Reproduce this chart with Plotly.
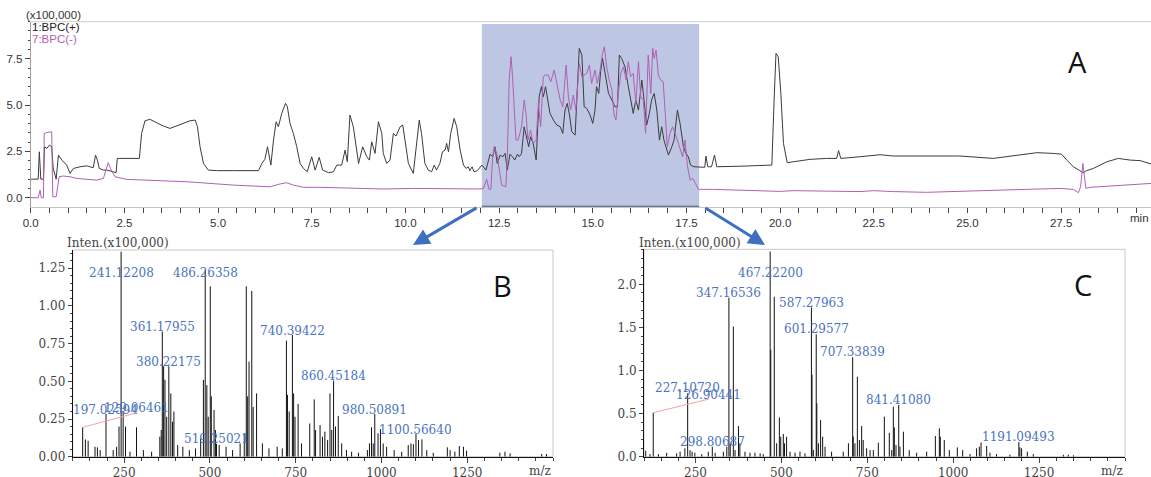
import plotly.graph_objects as go

# ---------------- Chromatogram (A) ----------------
t_pos = [0, 0.2, 0.23, 0.27, 0.34, 0.37, 0.43, 0.5, 0.56, 0.6, 0.68, 0.74, 0.83, 0.96, 1.05, 1.14, 1.32, 1.5, 1.58, 1.67,
         1.73, 1.78, 1.83, 1.94, 2.03, 2.12, 2.2, 2.28, 2.31, 2.38, 2.56, 2.74, 2.9, 2.96, 3.05, 3.18, 3.36, 3.54, 3.72, 3.9,
         4.07, 4.25, 4.39, 4.45, 4.52, 4.61, 4.74, 4.96, 5.41, 5.77, 6.08, 6.17, 6.25, 6.32, 6.37, 6.41, 6.48, 6.55, 6.61, 6.7,
         6.8, 6.85, 6.92, 7.01, 7.1, 7.19, 7.28, 7.38, 7.5, 7.59, 7.7, 7.79, 7.95, 8.08, 8.17, 8.3, 8.39, 8.45, 8.52, 8.61,
         8.75, 8.86, 8.97, 9.04, 9.1, 9.19, 9.28, 9.37, 9.41, 9.5, 9.59, 9.68, 9.75, 9.86, 9.93, 9.99, 10.08, 10.21, 10.3, 10.37,
         10.43, 10.52, 10.61, 10.7, 10.77, 10.83, 10.92, 10.99, 11.06, 11.1, 11.15, 11.21, 11.3, 11.37, 11.46, 11.55, 11.62, 11.68, 11.72, 11.78,
         11.83, 11.92, 12.04, 12.15, 12.26, 12.33, 12.39, 12.45, 12.53, 12.6, 12.66, 12.72, 12.79, 12.86, 12.92, 12.99, 13.04, 13.1, 13.17, 13.24,
         13.29, 13.34, 13.41, 13.49, 13.52, 13.57, 13.63, 13.68, 13.74, 13.79, 13.86, 13.95, 14.04, 14.13, 14.2, 14.26, 14.32, 14.38, 14.44, 14.53,
         14.59, 14.64, 14.71, 14.77, 14.84, 14.93, 15.0, 15.06, 15.1, 15.16, 15.21, 15.26, 15.33, 15.42, 15.51, 15.59, 15.66, 15.71, 15.77, 15.86,
         15.95, 16.01, 16.08, 16.15, 16.22, 16.31, 16.37, 16.44, 16.51, 16.57, 16.64, 16.71, 16.78, 16.84, 16.9, 16.96, 17.02, 17.11, 17.17, 17.26,
         17.33, 17.42, 17.49, 17.55, 17.61, 17.7, 17.86, 17.99, 18.02, 18.07, 18.17, 18.25, 18.31, 18.4, 18.66, 19.11, 19.46, 19.78, 19.84, 19.89,
         19.95, 20.02, 20.09, 20.19, 20.35, 20.8, 21.24, 21.51, 21.56, 21.62, 22.13, 22.67, 23.02, 23.91, 24.8, 25.69, 26.23, 26.58, 26.85, 27.29,
         27.51, 27.65, 27.83, 28.0, 28.09, 28.18, 28.36, 28.72, 29.03, 29.34, 29.61, 29.9]
i_pos = [1.0, 1.0, 2.48, 1.0, 1.0, 2.75, 2.66, 2.84, 2.75, 1.6, 1.0, 2.3, 2.03, 1.76, 1.31, 1.58, 1.67, 1.72, 1.67, 1.62,
         2.3, 2.03, 1.58, 1.49, 1.49, 1.46, 1.4, 1.35, 2.12, 2.12, 2.12, 2.12, 2.12, 3.47, 4.15, 4.23, 4.05, 3.87, 3.74, 3.87,
         4.01, 4.15, 4.19, 3.83, 2.75, 1.85, 1.49, 1.46, 1.46, 1.46, 1.46, 1.85, 2.07, 2.75, 2.21, 1.76, 3.11, 4.1, 3.83, 4.55,
         5.09, 4.91, 4.01, 3.47, 2.75, 1.85, 1.58, 1.4, 2.21, 1.49, 2.18, 1.49, 1.35, 1.4, 1.76, 1.76, 2.57, 1.94, 4.46, 3.83,
         1.85, 2.75, 2.21, 2.03, 3.02, 2.39, 4.1, 3.47, 2.39, 1.85, 2.03, 3.47, 3.33, 3.83, 3.92, 3.11, 1.85, 1.31, 3.11, 4.19,
         3.47, 1.85, 1.49, 1.4, 1.76, 1.49, 1.85, 2.48, 2.57, 2.93, 2.48, 3.47, 4.28, 3.83, 2.57, 1.76, 1.58, 1.67, 1.46, 1.67,
         1.4, 1.46, 1.76, 1.49, 2.35, 2.21, 2.75, 1.85, 2.3, 2.21, 2.39, 1.49, 2.35, 2.21, 2.03, 2.35, 2.21, 2.39, 3.83, 3.11,
         2.75, 3.29, 2.93, 2.03, 3.47, 5.45, 5.99, 5.45, 5.99, 5.27, 4.55, 4.19, 3.92, 3.83, 3.47, 4.73, 5.09, 4.46, 3.56, 3.38,
         6.17, 8.06, 7.7, 4.91, 4.82, 4.46, 4.01, 4.73, 5.99, 5.63, 6.8, 7.52, 6.71, 5.63, 5.27, 4.91, 4.91, 7.7, 7.52, 7.07,
         5.99, 5.27, 4.55, 5.27, 4.73, 6.35, 5.27, 3.92, 4.55, 5.27, 5.63, 4.73, 3.11, 3.83, 3.11, 2.75, 2.3, 2.75, 3.11, 4.73,
         4.01, 2.75, 2.39, 2.21, 1.76, 1.67, 1.64, 1.64, 2.25, 1.67, 1.67, 2.3, 1.67, 1.67, 1.71, 1.71, 1.74, 1.76, 5.27, 7.79,
         7.61, 5.63, 2.93, 1.89, 1.94, 2.07, 2.12, 2.12, 2.54, 2.12, 2.21, 2.32, 2.25, 2.25, 2.25, 2.12, 2.25, 2.35, 2.43, 2.39,
         2.35, 2.03, 1.67, 1.46, 1.35, 1.46, 1.58, 1.94, 2.12, 2.03, 2.0, 1.82]

t_neg = [0, 0.2, 0.25, 0.28, 0.34, 0.36, 0.43, 0.52, 0.56, 0.59, 0.68, 0.72, 0.76, 0.87, 1.05, 1.23, 1.5, 1.76, 1.94, 2.01,
         2.07, 2.13, 2.25, 2.56, 3.18, 3.81, 4.16, 4.52, 4.96, 5.41, 5.94, 6.39, 6.65, 6.83, 7.01, 7.28, 7.72, 8.52, 9.41, 10.21,
         11.1, 11.99, 12.08, 12.17, 12.23, 12.28, 12.33, 12.37, 12.44, 12.51, 12.57, 12.68, 12.72, 12.77, 12.82, 12.86, 12.91, 12.95, 13.01, 13.1,
         13.17, 13.22, 13.27, 13.34, 13.41, 13.49, 13.55, 13.61, 13.68, 13.74, 13.81, 13.88, 13.97, 14.04, 14.13, 14.2, 14.29, 14.35, 14.41, 14.48,
         14.55, 14.64, 14.71, 14.78, 14.84, 14.91, 14.97, 15.06, 15.12, 15.19, 15.26, 15.31, 15.37, 15.44, 15.51, 15.57, 15.62, 15.68, 15.75, 15.82,
         15.89, 15.95, 16.01, 16.08, 16.15, 16.22, 16.28, 16.35, 16.41, 16.48, 16.55, 16.6, 16.64, 16.69, 16.75, 16.81, 16.88, 16.94, 16.99, 17.06,
         17.13, 17.2, 17.26, 17.33, 17.4, 17.46, 17.53, 17.6, 17.67, 17.74, 17.82, 18.22, 19.11, 19.99, 20.35, 21.24, 22.13, 22.49, 23.02, 23.91,
         24.8, 25.69, 26.58, 27.47, 27.83, 27.96, 28.02, 28.08, 28.12, 28.16, 28.27, 28.81, 29.25, 29.9]
i_neg = [0.0, 0.0, 0.41, 0.0, 0.0, 3.47, 3.51, 3.56, 3.56, 0.05, 0.05, 0.59, 1.13, 1.17, 1.13, 1.04, 0.99, 0.95, 1.04, 1.58,
         1.89, 1.58, 1.13, 0.99, 0.95, 0.92, 0.86, 0.81, 0.74, 0.68, 0.63, 0.59, 0.74, 0.81, 0.68, 0.56, 0.56, 0.5, 0.47, 0.5,
         0.47, 0.47, 0.5, 0.99, 0.45, 0.45, 2.21, 2.75, 2.39, 1.49, 0.68, 0.59, 2.21, 6.35, 7.61, 6.53, 4.19, 3.11, 3.11, 3.83,
         5.27, 4.55, 3.11, 3.65, 2.93, 3.11, 5.09, 3.83, 6.53, 6.62, 6.62, 6.26, 6.89, 6.17, 5.27, 4.91, 7.16, 5.45, 4.73, 5.54,
         4.73, 7.25, 6.53, 6.62, 6.71, 7.16, 6.17, 6.89, 6.17, 6.8, 7.79, 8.15, 7.07, 6.35, 5.81, 4.46, 4.19, 5.63, 6.71, 7.07,
         6.35, 7.34, 6.53, 6.71, 5.09, 7.34, 5.45, 5.27, 3.47, 7.7, 5.63, 8.06, 7.52, 7.97, 6.62, 6.35, 6.26, 4.37, 2.75, 3.47,
         3.83, 3.47, 3.11, 2.75, 2.21, 3.11, 1.67, 0.95, 1.04, 0.77, 0.45, 0.45, 0.38, 0.34, 0.38, 0.34, 0.33, 0.38, 0.33, 0.29,
         0.33, 0.38, 0.45, 0.5, 0.45, 0.27, 0.59, 1.85, 1.13, 0.5, 0.56, 0.63, 0.68, 0.77]

sel_start, sel_end = 12.04, 17.84  # highlighted retention-time window (min)

# ---------------- Mass spectrum (B) ----------------
b_mz = [129.06, 137, 145, 165, 172, 180, 197.03, 218, 228, 235, 241.12, 247, 254, 267, 286, 306, 330, 354, 358, 361.18,
        365, 369, 374, 380.22, 386, 391, 395, 406, 421, 440, 458, 473, 481, 486.26, 491, 495, 501, 504, 512, 516,
        519.25, 527, 547, 566, 588, 600, 606, 610, 614, 622, 626, 636, 653, 672, 696, 711, 723, 726, 731, 740.39,
        744, 748, 757, 767, 791, 804, 808, 821, 828, 835, 843, 850, 855, 860.45, 866, 874, 884, 898, 913, 933,
        959, 965, 971, 976, 980.51, 990, 997, 1005, 1015, 1037, 1059, 1078, 1086, 1093, 1100.57, 1108, 1118, 1132, 1151, 1192,
        1200, 1214, 1227, 1239, 1248, 1345, 1360, 1375, 1467, 1481]
b_int = [0.195, 0.115, 0.106, 0.066, 0.062, 0.044, 0.283, 0.044, 0.066, 0.20, 1.36, 0.30, 0.20, 0.033, 0.195, 0.044, 0.033, 0.133, 0.177, 0.83,
         0.60, 0.51, 0.265, 0.60, 0.42, 0.232, 0.30, 0.077, 0.066, 0.044, 0.055, 0.121, 0.51, 1.24, 0.475, 0.265, 1.13, 0.40, 0.31, 0.177,
         0.085, 0.077, 0.066, 0.044, 0.088, 0.155, 1.13, 0.40, 0.63, 1.10, 0.33, 0.42, 0.088, 0.055, 0.066, 0.055, 0.77, 0.41, 0.30, 0.807,
         0.42, 0.265, 0.35, 0.088, 0.22, 0.38, 0.177, 0.21, 0.133, 0.166, 0.11, 0.42, 0.177, 0.504, 0.20, 0.27, 0.088, 0.044, 0.033, 0.026,
         0.044, 0.088, 0.195, 0.088, 0.283, 0.155, 0.183, 0.088, 0.066, 0.044, 0.033, 0.077, 0.088, 0.082, 0.15, 0.11, 0.115, 0.044, 0.026, 0.062,
         0.044, 0.033, 0.07, 0.066, 0.04, 0.026, 0.033, 0.022, 0.018, 0.018]
b_labels = ["241.12208", "486.26358", "361.17955", "380.22175", "197.02594", "519.25021",
            "740.39422", "860.45184", "980.50891", "1100.56640"]
b_leader_label = "129.06461"

# ---------------- Mass spectrum (C) ----------------
c_mz = [105, 117.5, 126.90, 142, 166, 195, 205, 219, 227.11, 234, 240, 248, 268, 287, 298.81, 307, 331, 341, 347.17, 351,
        360, 365, 375, 379, 394, 408.5, 423, 438, 447, 467.22, 469, 479.2, 486, 494, 498, 505.5, 509, 515, 525, 539.5,
        554, 568.6, 587.28, 589, 593, 601.30, 603, 607.6, 614, 620, 627, 646, 680, 695, 707.34, 709, 714, 721, 727, 733.5,
        738, 748, 758, 767.5, 782, 799.5, 814, 821, 825.7, 828.6, 833.5, 841.41, 845, 855, 872, 893.6, 922.7, 948, 959.6, 962.5,
        974, 988.7, 1012, 1027.5, 1049, 1068, 1076, 1081, 1097.4, 1107, 1126, 1165, 1191.09, 1194, 1199, 1215.7, 1233, 1320.5, 1335, 1350]
c_int = [0.07, 0.03, 0.51, 0.03, 0.046, 0.039, 0.058, 0.097, 0.735, 0.077, 0.058, 0.046, 0.03, 0.058, 0.116, 0.046, 0.058, 0.116, 1.845, 0.155,
         1.51, 0.077, 0.355, 0.155, 0.058, 0.046, 0.046, 0.039, 0.03, 2.38, 1.24, 1.856, 0.155, 0.456, 0.232, 0.263, 0.155, 0.232, 0.058, 0.046,
         0.058, 0.039, 1.73, 0.95, 0.077, 1.42, 0.62, 0.155, 0.425, 0.232, 0.116, 0.058, 0.058, 0.155, 1.153, 0.232, 0.155, 0.928, 0.193, 0.355,
         0.193, 0.097, 0.077, 0.077, 0.162, 0.464, 0.278, 0.077, 0.58, 0.34, 0.135, 0.6, 0.116, 0.29, 0.077, 0.046, 0.058, 0.24, 0.33, 0.232,
         0.193, 0.077, 0.108, 0.077, 0.03, 0.097, 0.116, 0.166, 0.124, 0.046, 0.03, 0.023, 0.17, 0.108, 0.097, 0.058, 0.03, 0.023, 0.023, 0.016]
c_labels = ["467.22200", "347.16536", "587.27963", "601.29577", "707.33839", "841.41080",
            "1191.09493", "227.10720", "298.80687"]
c_leader_label = "126.90441"

mz_ticks = [250, 500, 750, 1000, 1250]

# ---------------- geometry / styles ----------------
W, H = 1151, 477
def px(x):
    return x / W
def py(y):
    return 1 - y / H

BLUE = "#4a72c0"
PINK = "#f2a5a5"
SERIF = "DejaVu Serif"
SANS = "Liberation Sans"

def sticks(mz, inten):
    xs, ys = [], []
    for m, v in zip(mz, inten):
        xs += [m, m, None]
        ys += [0, v, None]
    return xs, ys

fig = go.Figure()
fig.add_trace(go.Scatter(x=t_pos, y=i_pos, mode="lines", line=dict(color="#3c3c3c", width=1),
                         xaxis="x", yaxis="y", hoverinfo="skip"))
fig.add_trace(go.Scatter(x=t_neg, y=i_neg, mode="lines", line=dict(color="#b060b2", width=1),
                         xaxis="x", yaxis="y", hoverinfo="skip"))
bx, by = sticks(b_mz, b_int)
fig.add_trace(go.Scatter(x=bx, y=by, mode="lines", line=dict(color="#111", width=1),
                         xaxis="x2", yaxis="y2", hoverinfo="skip"))
cx, cy = sticks(c_mz, c_int)
fig.add_trace(go.Scatter(x=cx, y=cy, mode="lines", line=dict(color="#111", width=1),
                         xaxis="x3", yaxis="y3", hoverinfo="skip"))

top_font = dict(family=SANS, size=11.5, color="#333")
spec_font = dict(family=SERIF, size=12, color="#444")

common_tick = dict(showgrid=False, zeroline=False, ticks="outside", tickcolor="#444", tickwidth=1,
                   automargin=False)

fig.update_layout(
    width=W, height=H, margin=dict(l=0, r=0, t=0, b=0, autoexpand=False),
    paper_bgcolor="white", plot_bgcolor="white", showlegend=False,
    xaxis=dict(domain=[px(30.7), 1.0], range=[0, (W - 30.7) / 37.47], anchor="y",
               tick0=0, dtick=2.5, tickformat=".1f", ticklen=5, showline=True, linecolor="#c4c4c4",
               minor=dict(dtick=0.5, tick0=0, ticklen=5, ticks="outside", tickcolor="#444"),
               tickfont=top_font, **common_tick),
    yaxis=dict(domain=[py(206.7), py(21.7)], range=[-0.486, 9.5], anchor="x",
               tick0=0, dtick=2.5, tickformat=".1f", ticklen=5, showline=True, linecolor="#a0a0a0",
               minor=dict(dtick=0.5, tick0=0, ticklen=2, ticks="outside", tickcolor="#444"),
               tickfont=top_font, **common_tick),
    xaxis2=dict(domain=[px(72.7), px(553)], range=[100, 1500], anchor="y2",
                tickvals=mz_ticks, ticklen=5, showline=True, linecolor="#111",
                minor=dict(dtick=50, tick0=0, ticklen=3, ticks="outside", tickcolor="#444"),
                tickfont=spec_font, **common_tick),
    yaxis2=dict(domain=[py(456.7), py(250)], range=[0, 1.371], anchor="x2",
                dtick=0.25, tickformat=".2f", ticklen=4, showline=True, linecolor="#111",
                minor=dict(dtick=0.05, tick0=0, ticklen=2, ticks="outside", tickcolor="#444"),
                tickfont=spec_font, **common_tick),
    xaxis3=dict(domain=[px(644), px(1125)], range=[100, 1500], anchor="y3",
                tickvals=mz_ticks, ticklen=5, showline=True, linecolor="#111",
                minor=dict(dtick=50, tick0=0, ticklen=3, ticks="outside", tickcolor="#444"),
                tickfont=spec_font, **common_tick),
    yaxis3=dict(domain=[py(456.7), py(249.3)], range=[0, 2.406], anchor="x3",
                dtick=0.5, tickformat=".1f", ticklen=4, showline=True, linecolor="#111",
                minor=dict(dtick=0.1, tick0=0, ticklen=2, ticks="outside", tickcolor="#444"),
                tickfont=spec_font, **common_tick),
)

shapes = [
    # highlighted window
    dict(type="rect", xref="x", yref="y", x0=sel_start, x1=sel_end, y0=-0.486, y1=9.37,
         fillcolor="#bdc7e4", line=dict(width=0), layer="below"),
    dict(type="line", xref="x", yref="y", x0=sel_start, x1=sel_end, y0=-0.486, y1=-0.486,
         line=dict(color="#4a5272", width=2)),
    # top border of chromatogram
    dict(type="line", xref="paper", yref="paper", x0=px(30.7), x1=1, y0=py(21.7), y1=py(21.7),
         line=dict(color="#cfcfcf", width=1)),
    # spectrum frames
    dict(type="rect", xref="paper", yref="paper", x0=px(72.7), x1=px(553), y0=py(456.7), y1=py(250),
         line=dict(color="#c8c8c8", width=1), layer="below"),
    dict(type="rect", xref="paper", yref="paper", x0=px(644), x1=px(1125), y0=py(456.7), y1=py(249.3),
         line=dict(color="#c8c8c8", width=1), layer="below"),
]
fig.update_layout(shapes=shapes)

ann = []
# chromatogram header texts
ann.append(dict(text="(x100,000)", x=px(24), y=py(15), xref="paper", yref="paper", xanchor="left",
                yanchor="middle", showarrow=False, font=dict(family=SANS, size=11.5, color="#333")))
ann.append(dict(text="1:BPC(+)", x=px(30), y=py(27.5), xref="paper", yref="paper", xanchor="left",
                yanchor="middle", showarrow=False, font=dict(family=SANS, size=11.5, color="#222")))
ann.append(dict(text="7:BPC(-)", x=px(30), y=py(39.5), xref="paper", yref="paper", xanchor="left",
                yanchor="middle", showarrow=False, font=dict(family=SANS, size=11.5, color="#b060b2")))
ann.append(dict(text="min", x=1.0, y=py(218), xref="paper", yref="paper", xanchor="right",
                yanchor="middle", showarrow=False, font=top_font))
# panel letters
for letter, x, y in [("A", 1077, 61), ("B", 502, 285), ("C", 1083, 284)]:
    ann.append(dict(text=letter, x=px(x), y=py(y), xref="paper", yref="paper", xanchor="center",
                    yanchor="middle", showarrow=False, font=dict(family="Open Sans", size=29, color="#111")))
# spectrum axis titles
for x0 in (65, 637):
    ann.append(dict(text="Inten.(x100,000)", x=px(x0), y=py(243.5), xref="paper", yref="paper",
                    xanchor="left", yanchor="middle", showarrow=False, font=spec_font))
for x1 in (553, 1125):
    ann.append(dict(text="m/z", x=px(x1), y=py(470.5), xref="paper", yref="paper",
                    xanchor="right", yanchor="middle", showarrow=False, font=spec_font))

label_font = dict(family=SERIF, size=12, color=BLUE)

def peak_labels(labels, mz, inten, xr, yr, pad, cap):
    out = []
    for lab in labels:
        m = float(lab)
        k = min(range(len(mz)), key=lambda i: abs(mz[i] - m))
        out.append(dict(text=lab, x=mz[k], y=min(inten[k] + pad, cap), xref=xr, yref=yr,
                        xanchor="center", yanchor="middle", showarrow=False, font=label_font))
    return out

ann += peak_labels(b_labels, b_mz, b_int, "x2", "y2", 0.03, 1.216)
ann += peak_labels(c_labels, c_mz, c_int, "x3", "y3", 0.058, 2.127)

def leader(lab, mz, inten, xr, yr, dx, dy):
    m = float(lab)
    k = min(range(len(mz)), key=lambda i: abs(mz[i] - m))
    return [
        dict(text="", x=mz[k], y=inten[k], xref=xr, yref=yr, showarrow=True, arrowhead=0,
             arrowwidth=1, arrowcolor=PINK, ax=dx + 2, ay=dy + 4, standoff=0, startstandoff=0),
        dict(text=lab, x=mz[k], y=inten[k], xref=xr, yref=yr, showarrow=False, xanchor="center",
             yanchor="middle", xshift=dx, yshift=-dy, font=label_font),
    ]

ann += leader(b_leader_label, b_mz, b_int, "x2", "y2", 54, -19)
ann += leader(c_leader_label, c_mz, c_int, "x3", "y3", 55, -18)

# blue arrows from the highlighted window to the spectra
for tip, tail in [((413, 245), (478, 207)), ((765, 245), (704, 207))]:
    ann.append(dict(text="", x=px(tip[0]), y=py(tip[1]), xref="paper", yref="paper", showarrow=True,
                    arrowhead=2, arrowsize=1.1, arrowwidth=3, arrowcolor="#3f6fc0",
                    ax=tail[0] - tip[0], ay=tail[1] - tip[1]))

fig.update_layout(annotations=ann)

# remove the default 8px page margin so the figure sits at the window's top-left corner
fig.write_html("out.html", config={"displayModeBar": False},
               post_script="document.body.style.margin='0';document.body.style.overflow='hidden';")
